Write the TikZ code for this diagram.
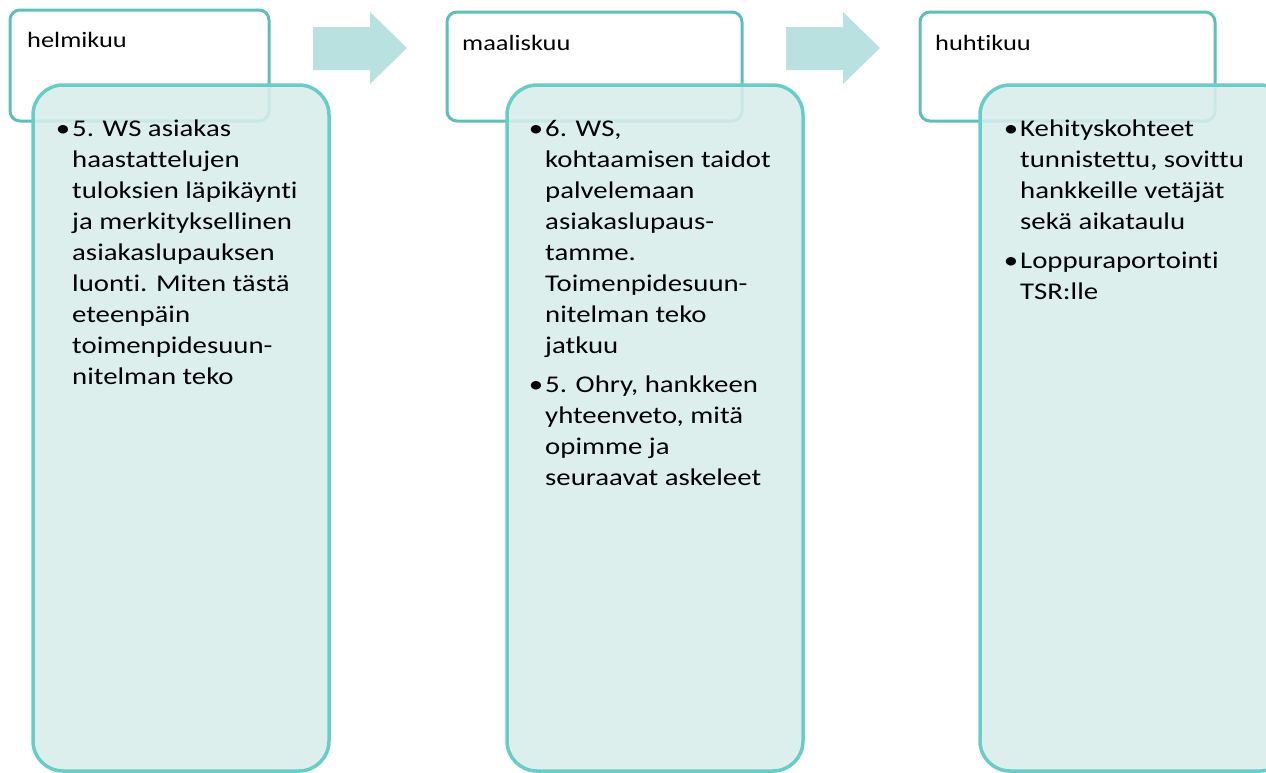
\documentclass[tikz,border=0pt]{standalone}
\usepackage{fontspec}
\setmainfont{Carlito}[FakeStretch=1.2,Ligatures={NoCommon,NoRequired,NoContextual},RawFeature={-liga;-dlig;-calt}]
\definecolor{monthline}{RGB}{96,190,186}
\definecolor{itemline}{RGB}{104,205,200}
\definecolor{itemfill}{RGB}{216,237,235}
\definecolor{arrowfill}{RGB}{184,225,224}
\newcommand{\bul}{\makebox[0pt][r]{•\hspace{2pt}}}

\begin{document}
\begin{tikzpicture}[x=1pt,y=-1pt,
  monthbox/.style={draw=monthline,line width=3pt,rounded corners=10pt,fill=white,anchor=north west,inner sep=0pt,outer sep=0pt},
  itembox/.style={draw=itemline,line width=3.5pt,rounded corners=30pt,fill=itemfill,fill opacity=0.88,anchor=north west,inner sep=0pt,outer sep=0pt,minimum width=296pt,minimum height=686pt},
  monthtext/.style={anchor=base west,inner sep=0pt,font=\fontsize{22}{26}\selectfont},
  itemtext/.style={anchor=north west,align=left,inner sep=0pt,font=\fontsize{24}{31}\selectfont}]
		\useasboundingbox (0,0) rectangle (1266,772);
		\clip (0,0) rectangle (1266,772);
		% arrows between the months
		\foreach \x in {313,786}
			\fill[arrowfill] (\x,27) -- ++(57,0) -- ++(0,-15) -- ++(37,36) -- ++(-37,36) -- ++(0,-14) -- ++(-57,0) -- cycle;
		% month boxes
		\node[monthbox,minimum width=259pt,minimum height=111pt] (m1) at (10,10) {};
		\node[monthbox,minimum width=295pt,minimum height=109pt] (m2) at (447,12) {};
		\node[monthbox,minimum width=295pt,minimum height=109pt] (m3) at (920,12) {};
		\node[monthtext] (t1) at (27,47) {helmikuu};
		\node[monthtext] (t2) at (462,50) {maaliskuu};
		\node[monthtext] (t3) at (935,50) {huhtikuu};
		% item boxes
		\node[itembox] (i1) at (33,85) {};
		\node[itembox] (i2) at (507,85) {};
		\node[itembox,minimum width=310pt] (i3) at (980,85) {};
		\node[itemtext] (l1) at (72,120) {\bul 5. WS asiakas\\haastattelujen\\tuloksien läpikäynti\\ja merkityksellinen\\asiakaslupauksen\\luonti. Miten tästä\\eteenpäin\\toimenpidesuun-\\nitelman teko};
		\node[itemtext] (l2) at (545,120) {\bul 6. WS,\\kohtaamisen taidot\\palvelemaan\\asiakaslupaus-\\tamme.\\Toimenpidesuun-\\nitelman teko\\jatkuu\\[8pt]\bul 5. Ohry, hankkeen\\yhteenveto, mitä\\opimme ja\\seuraavat askeleet};
		\node[itemtext] (l3) at (1020,120) {\bul Kehityskohteet\\tunnistettu, sovittu\\hankkeille vetäjät\\sekä aikataulu\\[8pt]\bul Loppuraportointi\\TSR:lle};
\end{tikzpicture}
\end{document}
